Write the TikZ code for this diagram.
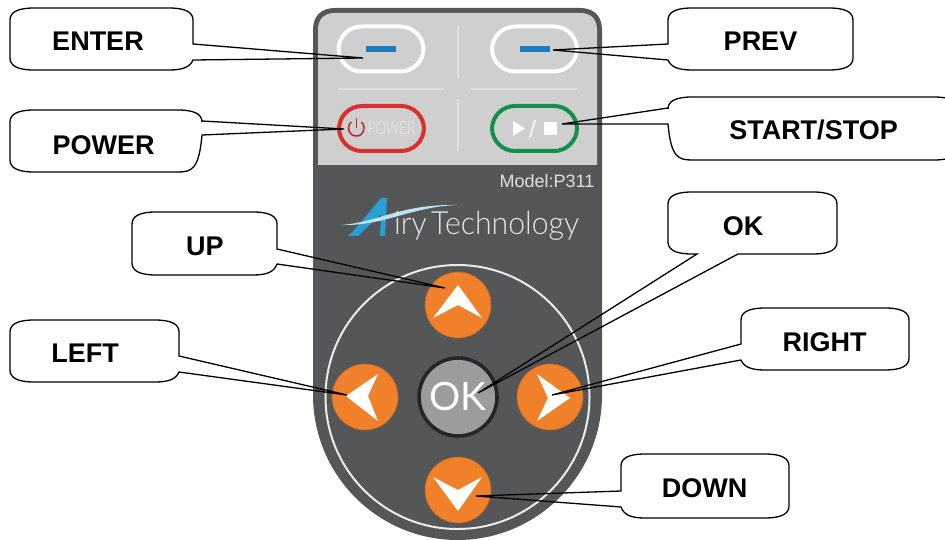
\documentclass[tikz,border=0pt]{standalone}
\usepackage{fontspec}
\setmainfont{Liberation Sans}
\newfontfamily\logofont{Lato Light}
\newfontfamily\okfont{Lato}
\definecolor{bodygray}{HTML}{555657}
\definecolor{panelgray}{HTML}{CFCFCF}
\definecolor{sepgray}{HTML}{E0E0E0}
\definecolor{btnorange}{HTML}{F0812A}
\definecolor{keyblue}{HTML}{1B7DBE}
\definecolor{keyred}{HTML}{D8302E}
\definecolor{keygreen}{HTML}{128F48}
\definecolor{logoblue}{HTML}{2A9FD6}
\definecolor{logosky}{HTML}{BFE3F2}
\definecolor{okgray}{HTML}{9C9C9C}
\tikzset{
  callout/.style={draw=black,line width=1.3pt,line join=miter},
  lbl/.style={inner sep=0pt,text height=19pt,text depth=0pt,font=\fontsize{27}{27}\selectfont\bfseries,text=black},
  pill/.style={rounded corners=23pt,minimum width=85pt,minimum height=45pt,line width=4pt,inner sep=0pt},
  dirbtn/.style={circle,fill=btnorange,draw=btnorange!80!black,line width=.6pt,minimum size=66pt,inner sep=0pt},
  sepline/.style={draw=sepgray,line width=1.8pt},
  glyph/.style={fill=white,draw=none}
}
% x0 y0 x1 y1 a b tip : tail on the right side
\newcommand{\calloutR}[7]{\draw[callout] ({#1},{#2+12}) .. controls ({#1},{#2+4}) and ({#1+8},{#2}) .. ({#1+24},{#2})
  -- ({#3-24},{#2}) .. controls ({#3-8},{#2}) and ({#3},{#2+4}) .. ({#3},{#2+12})
  -- ({#3},{#5}) -- (#7) -- ({#3},{#6})
  .. controls ({#3-3},{#4-3}) and ({#3-10},{#4}) .. ({#3-24},{#4})
  -- ({#1+24},{#4}) .. controls ({#1+8},{#4}) and ({#1},{#4-4}) .. ({#1},{#4-12}) -- cycle;}
% x0 y0 x1 y1 a b tip : tail on the left side
\newcommand{\calloutL}[7]{\draw[callout] ({#3},{#2+12}) .. controls ({#3},{#2+4}) and ({#3-8},{#2}) .. ({#3-24},{#2})
  -- ({#1+24},{#2}) .. controls ({#1+8},{#2}) and ({#1},{#2+4}) .. ({#1},{#2+12})
  -- ({#1},{#5}) -- (#7) -- ({#1},{#6})
  .. controls ({#1+3},{#4-3}) and ({#1+10},{#4}) .. ({#1+24},{#4})
  -- ({#3-24},{#4}) .. controls ({#3-8},{#4}) and ({#3},{#4-4}) .. ({#3},{#4-12}) -- cycle;}
\begin{document}
\begin{tikzpicture}[x=1pt,y=-1pt]
\useasboundingbox (0,0) rectangle (945,540);
\clip (0,0) rectangle (945,540);
% remote body
\fill[bodygray] (313,30) .. controls (313,16) and (321,8) .. (335,8) -- (580,8) .. controls (594,8) and (602,16) .. (602,30)
  -- (602,395) .. controls (602,475) and (537.3,540) .. (457.5,540) .. controls (377.7,540) and (313,475) .. (313,395) -- cycle;
\fill[panelgray] (318,30) .. controls (318,19) and (324,13) .. (335,13) -- (580,13) .. controls (591,13) and (597,19) .. (597,30) -- (597,165) -- (318,165) -- cycle;
% separators
\draw[sepline] (458,26) -- (458,78);
\draw[sepline] (458,99) -- (458,151);
\draw[sepline] (338,89) -- (444,89);
\draw[sepline] (471,89) -- (577,89);
% top keys
\node[pill,draw=white] (enterkey) at (381,49) {};
\node[pill,draw=white] (prevkey) at (534.5,49) {};
\node[pill,draw=keyred,fill=none] (powerkey) at (381.5,128.5) {};
\node[pill,draw=keygreen] (startkey) at (534.5,128.5) {};
\fill[keyblue] (366,46.5) rectangle (396,52);
\fill[keyblue] (520,46.5) rectangle (549.5,52);
% power glyph
\draw[keyred!85!black,line width=1.5pt] (351.2,122) .. controls (346,127) and (348.5,136) .. (356.3,136) .. controls (364,136) and (366.5,127) .. (361.4,122);
\draw[keyred!85!black,line width=1.5pt] (356.3,118) -- (356.3,128);
\node[inner sep=0pt,text=white!92!black,font=\logofont\fontsize{18}{18}\selectfont] (powertext) at (391.5,128.5) {\scalebox{0.74}[1]{POWER}};
% play / stop glyphs
\fill[glyph] (513,121) -- (525,128.5) -- (513,136) -- cycle;
\draw[white,line width=1.6pt] (530,137) -- (535,120);
\fill[glyph] (543.5,122) rectangle (557,135);
% model and logo
\node[inner sep=0pt,anchor=east,text=white!88!black,font=\fontsize{18}{18}\selectfont] (model) at (594.5,181) {Model:P311};
\fill[logoblue] (348,236) .. controls (360,225) and (372,208) .. (381,198) -- (387,198) -- (385,236) -- (380,236) -- (381,214) .. controls (373,222) and (365,229) .. (358,236) -- cycle;
\fill[logosky] (341,225) .. controls (380,222) and (400,204) .. (457,205) .. controls (410,207) and (385,226) .. (341,225) -- cycle;
\node[inner sep=0pt,anchor=base west,text=white!90!black,font=\logofont\fontsize{32}{32}\selectfont] (logotext) at (394,235) {\scalebox{0.945}[1]{iry\hspace{-4pt} Technology}};
% ring and direction keys
\draw[white!92!black,line width=2pt] (457.5,397) circle[radius=132];
\node[dirbtn] (upkey) at (458,305) {};
\node[dirbtn] (leftkey) at (365,397) {};
\node[dirbtn] (rightkey) at (550,397) {};
\node[dirbtn] (downkey) at (458,490) {};
\fill[glyph] (458,285) -- (482,318) -- (458,305) -- (433,318) -- cycle;
\fill[glyph] (458,511) -- (482,477) -- (458,490) -- (433,477) -- cycle;
\fill[glyph] (346,396) -- (378,374) -- (368,396) -- (378,421) -- cycle;
\fill[glyph] (570,398) -- (537,374) -- (548,398) -- (537,421) -- cycle;
\node[circle,fill=okgray,draw=black!85,line width=3.6pt,minimum size=78pt,inner sep=0pt,text=white,font=\okfont\fontsize{39}{39}\selectfont] (okkey) at (458,397) {OK};
% callout tips
\coordinate (tipenter) at (363,58);
\coordinate (tippower) at (344,129);
\coordinate (tipprev) at (553,50);
\coordinate (tipstart) at (562,124);
\coordinate (tipok) at (478,393);
\coordinate (tipright) at (552,395);
\coordinate (tipdown) at (476,496);
\coordinate (tipup) at (445,288);
\coordinate (tipleft) at (347,395);
% callouts
\calloutR{10}{8}{193}{70}{44}{60}{tipenter}
\calloutR{10}{110}{202}{172}{121}{135}{tippower}
\calloutL{668}{8}{853}{70}{44}{60}{tipprev}
\calloutL{668}{97}{958}{160}{108}{124}{tipstart}
\calloutR{132}{212}{277}{275}{249}{264}{tipup}
\calloutR{10}{320}{179}{382}{356}{372}{tipleft}
\calloutL{741}{308}{909}{370}{344}{360}{tipright}
\calloutL{621}{454}{789}{518}{491}{507}{tipdown}
\draw[callout] (668,204) .. controls (668,196) and (676,192) .. (692,192) -- (813,192) .. controls (829,192) and (837,196) .. (837,204)
  -- (837,242) .. controls (837,250) and (829,254) .. (813,254) -- (738,254) -- (tipok) -- (697,254)
  -- (692,254) .. controls (676,254) and (668,250) .. (668,242) -- cycle;
% labels
\node[lbl] (lenter) at (98,41) {ENTER};
\node[lbl] (lpower) at (103.5,145) {POWER};
\node[lbl] (lprev) at (760.5,41) {PREV};
\node[lbl] (lstart) at (813.5,130) {START/STOP};
\node[lbl] (lok) at (743,226) {OK};
\node[lbl] (lright) at (824.5,342) {RIGHT};
\node[lbl] (ldown) at (704.5,488) {DOWN};
\node[lbl] (lup) at (205,246) {UP};
\node[lbl] (lleft) at (85,353) {LEFT};
\end{tikzpicture}
\end{document}
